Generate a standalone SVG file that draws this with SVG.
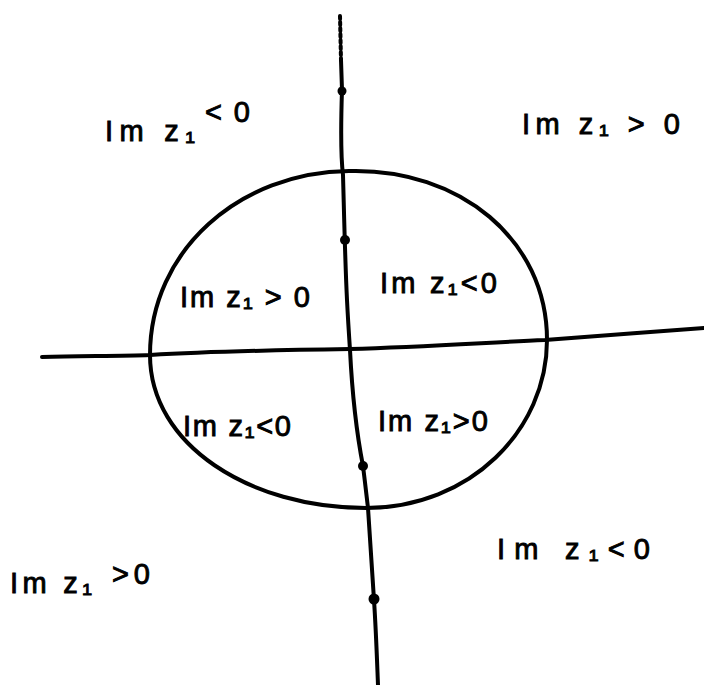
<svg xmlns="http://www.w3.org/2000/svg" width="704" height="685" viewBox="0 0 704 685">
<style>
.ln{fill:none;stroke:#000;stroke-width:4;stroke-linecap:round;stroke-linejoin:round}
.dot{fill:#000}
.lbl{font-family:"Liberation Sans",Arial,sans-serif;font-size:29px;fill:#000;stroke:#000;stroke-width:0.9}
</style>
<rect width="704" height="685" fill="#fff"/>
<g id="connectors">
<path class="ln" d="M340,16 L341,60" stroke-dasharray="3 3" stroke-width="2"/>
<path class="ln" d="M341,60 L342,90 C341,120 340,150 343,175 C344,210 345,260 347,300 C348,320 349,335 350,350 C352,390 356,430 363,466 C366,490 367,500 368,508 C370,540 372,570 374,600 C376,630 377,660 378,685"/>
<path class="ln" d="M42,357 C80,356 120,356 150,355 C200,352 280,350 350,349 C420,347 480,343 545,340 C600,336 650,332 704,328"/>
<path class="ln" d="M349,171 C460,168 547,240 547,340 C547,430 470,508 366,508 C250,508 150,445 150,355 C150,250 240,172 349,171 Z"/>
</g>
<g id="dots">
<circle class="dot" cx="342" cy="91" r="4.5"/>
<circle class="dot" cx="345" cy="240" r="5"/>
<circle class="dot" cx="363" cy="466" r="5"/>
<circle class="dot" cx="374" cy="599" r="5.5"/>
</g>
<g id="labels">
<g id="q-outer-tl"><text class="lbl" x="105" y="141" textLength="90" lengthAdjust="spacing">Im z₁</text><text class="lbl" x="205" y="122" textLength="45" lengthAdjust="spacing">&lt; 0</text></g>
<g id="q-outer-tr"><text class="lbl" x="522" y="134" textLength="158" lengthAdjust="spacing">Im z₁ &gt; 0</text></g>
<g id="q-inner-tl"><text class="lbl" x="180" y="307" textLength="130" lengthAdjust="spacing">Im z₁ &gt; 0</text></g>
<g id="q-inner-tr"><text class="lbl" x="380" y="293" textLength="117" lengthAdjust="spacing">Im z₁&lt;0</text></g>
<g id="q-inner-bl"><text class="lbl" x="183" y="436" textLength="108" lengthAdjust="spacing">Im z₁&lt;0</text></g>
<g id="q-inner-br"><text class="lbl" x="378" y="431" textLength="110" lengthAdjust="spacing">Im z₁&gt;0</text></g>
<g id="q-outer-bl"><text class="lbl" x="10" y="593" textLength="82" lengthAdjust="spacing">Im z₁</text><text class="lbl" x="112" y="584" textLength="38" lengthAdjust="spacing">&gt;0</text></g>
<g id="q-outer-br"><text class="lbl" x="497" y="559" textLength="153" lengthAdjust="spacing">Im z₁&lt;0</text></g>
</g>
</svg>
